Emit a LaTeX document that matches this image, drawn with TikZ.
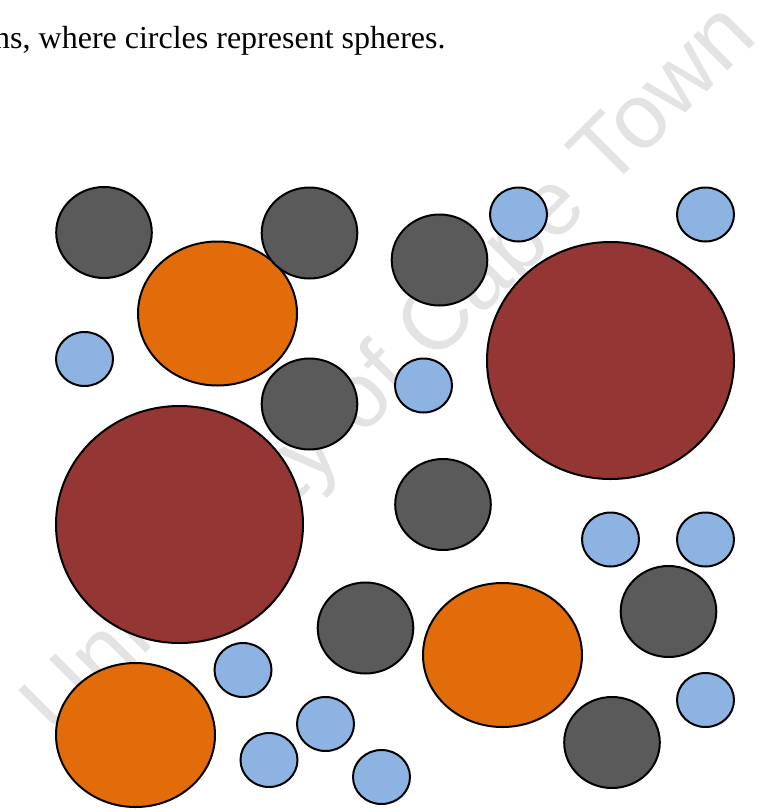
\documentclass[tikz,border=0pt]{standalone}
\usepackage{fontspec}
\setmainfont{Liberation Serif}
\newfontfamily\markfont{Liberation Sans}
\usetikzlibrary{positioning}
\definecolor{largecolor}{HTML}{943634}
\definecolor{mediumcolor}{HTML}{E36C0A}
\definecolor{greycolor}{HTML}{5A5A5A}
\definecolor{smallcolor}{HTML}{8DB3E2}
\colorlet{markcolor}{black!11}
\tikzset{
  sphere/.style={draw=black, line width=1pt},
  large sphere/.style={sphere, fill=largecolor, x radius=123.5, y radius=118.5},
  medium sphere/.style={sphere, fill=mediumcolor, x radius=79.5, y radius=72},
  grey sphere/.style={sphere, fill=greycolor, x radius=47.8, y radius=45.5},
  small sphere/.style={sphere, fill=smallcolor, x radius=28.5, y radius=27}
}

\begin{document}
\begin{tikzpicture}[x=0.5pt, y=-0.5pt]

  \useasboundingbox (0,0) rectangle (773,809);

  % Faint watermark, behind everything else.
  \node[rotate=45, text=markcolor, inner sep=0,
    font=\markfont\fontsize{46}{50}\selectfont]
    (watermark) at (392,373) {University of Cape Town};

  % End of the sentence above the figure.
  \node[anchor=base east, inner sep=0, font=\fontsize{16}{19}\selectfont]
    (caption) at (446,48) {ns, where circles represent spheres.};

  % Largest spheres.
  \draw[large sphere] (610.5,360.5) ellipse[];
  \draw[large sphere] (179.5,524.5) ellipse[];

  % Medium spheres.
  \draw[medium sphere] (217.5,313.5) ellipse[];
  \draw[medium sphere] (502.5,655) ellipse[];
  \draw[medium sphere] (135.5,735) ellipse[];

  % Grey spheres.
  \draw[grey sphere] (104,232.5) ellipse[];
  \draw[grey sphere] (309.5,233) ellipse[];
  \draw[grey sphere] (439.5,260) ellipse[];
  \draw[grey sphere] (309.5,404) ellipse[];
  \draw[grey sphere] (443,504.5) ellipse[];
  \draw[grey sphere] (668.5,611.5) ellipse[];
  \draw[grey sphere] (365.5,628) ellipse[];
  \draw[grey sphere] (612,742.5) ellipse[];

  % Smallest spheres.
  \draw[small sphere] (518.5,214.5) ellipse[];
  \draw[small sphere] (705.5,214.5) ellipse[];
  \draw[small sphere] (84.5,359) ellipse[];
  \draw[small sphere] (423.5,385.5) ellipse[];
  \draw[small sphere] (610.5,539.5) ellipse[];
  \draw[small sphere] (705.5,539.5) ellipse[];
  \draw[small sphere] (243,670) ellipse[];
  \draw[small sphere] (705.5,700) ellipse[];
  \draw[small sphere] (325.5,724) ellipse[];
  \draw[small sphere] (269,760) ellipse[];
  \draw[small sphere] (381.5,777) ellipse[];

\end{tikzpicture}
\end{document}
